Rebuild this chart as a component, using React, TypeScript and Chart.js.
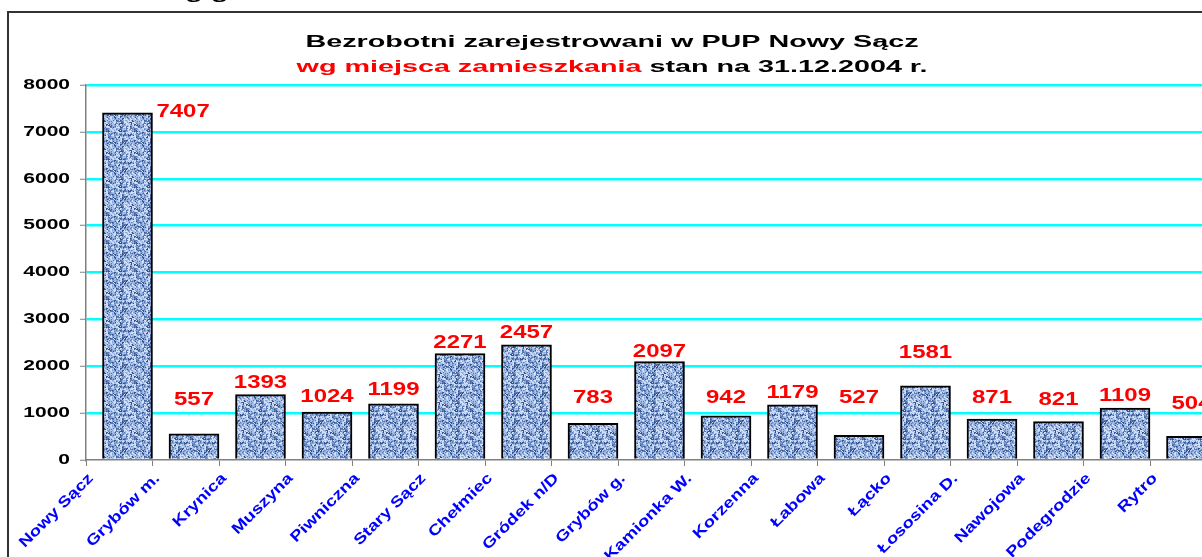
import React, { useEffect, useRef } from "react";
import { Chart, registerables } from "chart.js";

Chart.register(...registerables);

// ---------- data ----------
const categories = [
  "Nowy Sącz", "Grybów m.", "Krynica", "Muszyna", "Piwniczna", "Stary Sącz",
  "Chełmiec", "Gródek n/D", "Grybów g.", "Kamionka W.", "Korzenna", "Łabowa",
  "Łącko", "Łososina D.", "Nawojowa", "Podegrodzie", "Rytro",
];
const values = [7407, 557, 1393, 1024, 1199, 2271, 2457, 783, 2097, 942, 1179, 527, 1581, 871, 821, 1109, 504];
// level (in data units) of each value label's baseline, as placed in the picture
const labelLevels = [7317, 1173, 1536, 1244, 1387, 2389, 2603, 1216, 2197, 1216, 1323, 1216, 2176, 1216, 1173, 1265, 1088];
const labelBeside = [0]; // labels drawn to the right of their bar
const yMin = 0;
const yMax = 8000;
const yStep = 1000;
const titleLine1 = "Bezrobotni zarejestrowani w PUP Nowy Sącz";
const titleLine2Red = "wg miejsca zamieszkania";
const titleLine2Black = " stan na 31.12.2004 r.";
const headerText = "wg gmin";

// ---------- layout / style ----------
const W = 1260;
const H = 557;
const FONT = '"Liberation Sans", Arial, Helvetica, sans-serif';
const PLOT_LEFT = 86;
const PLOT_TOP = 85;
const PLOT_BOTTOM = 460;
const PLOT_RIGHT = 1216.5;
const BAR_PX = 50;
const BAR_POS = 0.624; // bar centre within its category unit

function stretchText(
  ctx: CanvasRenderingContext2D,
  text: string,
  x: number,
  y: number,
  sx: number,
  align: CanvasTextAlign,
  baseline: CanvasTextBaseline = "alphabetic"
) {
  ctx.save();
  ctx.translate(x, y);
  ctx.scale(sx, 1);
  ctx.textAlign = align;
  ctx.textBaseline = baseline;
  ctx.fillText(text, 0, 0);
  ctx.restore();
}

function makePattern(): CanvasPattern | string {
  const c = document.createElement("canvas");
  const N = 14;
  c.width = N * 2;
  c.height = N * 2;
  const g = c.getContext("2d");
  if (!g) return "#86a3d6";
  const pal = ["#d2e0f7", "#aac1e9", "#88a5d8", "#5b7ab3", "#35548d"];
  for (let y = 0; y < N; y++) {
    for (let x = 0; x < N; x++) {
      let h = Math.imul(x + 11, 374761393) + Math.imul(y + 7, 668265263);
      h = Math.imul(h ^ (h >>> 13), 1274126177);
      h = (h ^ (h >>> 16)) >>> 0;
      const r = h % 20;
      const idx = r < 5 ? 0 : r < 10 ? 1 : r < 14 ? 2 : r < 18 ? 3 : 4;
      g.fillStyle = pal[idx];
      g.fillRect(x * 2, y * 2, 2, 2);
      const r2 = (h >>> 8) % 4;
      g.fillStyle = pal[(idx + 1 + (r2 % 2)) % pal.length];
      g.fillRect(x * 2 + (r2 & 1), y * 2 + (r2 >> 1), 1, 1);
    }
  }
  const p = g.createPattern(c, "repeat");
  return p || "#86a3d6";
}

const textPlugin = {
  id: "textPlugin",
  afterDraw(chart: any) {
    const ctx: CanvasRenderingContext2D = chart.ctx;
    const xs = chart.scales.x;
    const ys = chart.scales.y;
    ctx.save();

    // header text above frame (only descenders visible)
    ctx.fillStyle = "#000";
    ctx.font = `bold 17px ${FONT}`;
    stretchText(ctx, headerText, 163, -1.5, 1.69, "left");

    // outer frame
    ctx.strokeStyle = "#333333";
    ctx.lineWidth = 2;
    ctx.strokeRect(8, 12, W + 20, H + 20);

    // title
    ctx.font = `bold 17px ${FONT}`;
    const ts = 1.69;
    const cx = 612;
    ctx.fillStyle = "#000";
    stretchText(ctx, titleLine1, cx, 47, ts, "center");
    const wr = ctx.measureText(titleLine2Red).width * ts;
    const wb = ctx.measureText(titleLine2Black).width * ts;
    const start = cx - (wr + wb) / 2;
    ctx.fillStyle = "#FF0000";
    stretchText(ctx, titleLine2Red, start, 71.5, ts, "left");
    ctx.fillStyle = "#000";
    stretchText(ctx, titleLine2Black, start + wr, 71.5, ts, "left");

    // y tick labels
    ctx.font = `bold 14px ${FONT}`;
    ctx.fillStyle = "#000";
    for (const t of ys.ticks) {
      const y = ys.getPixelForValue(t.value);
      stretchText(ctx, String(t.value), 70, y, 1.5, "right", "middle");
    }

    // x category labels
    ctx.font = `bold 15px ${FONT}`;
    ctx.fillStyle = "#0000FF";
    categories.forEach((name, i) => {
      const px = xs.getPixelForValue(i);
      ctx.save();
      ctx.translate(px + 8, PLOT_BOTTOM + 19);
      ctx.rotate(-Math.PI / 4);
      ctx.scale(1.25, 1);
      ctx.textAlign = "right";
      ctx.textBaseline = "alphabetic";
      ctx.fillText(name, 0, 0);
      ctx.restore();
    });

    // value labels
    const meta = chart.getDatasetMeta(0);
    ctx.font = `bold 18px ${FONT}`;
    ctx.fillStyle = "#FF0000";
    values.forEach((v, i) => {
      const el = meta.data[i];
      if (!el) return;
      const y = ys.getPixelForValue(labelLevels[i]);
      if (labelBeside.includes(i)) {
        stretchText(ctx, String(v), el.x + el.width / 2 + 4, y, 1.33, "left");
      } else {
        stretchText(ctx, String(v), el.x, y, 1.33, "center");
      }
    });

    ctx.restore();
  },
};

export default function App() {
  const ref = useRef<HTMLCanvasElement>(null);

  useEffect(() => {
    const canvas = ref.current;
    if (!canvas) return;
    const pattern = makePattern();
    const chart = new Chart(canvas, {
      type: "bar",
      data: {
        datasets: [
          {
            data: values.map((v, i) => ({ x: i + BAR_POS, y: v })),
            backgroundColor: pattern as any,
            borderColor: "#000000",
            borderWidth: 2,
            barThickness: BAR_PX,
          },
        ],
      },
      options: {
        responsive: false,
        animation: false,
        events: [],
        layout: { padding: { left: 0, top: PLOT_TOP, right: W - PLOT_RIGHT, bottom: 0 } },
        plugins: {
          legend: { display: false },
          tooltip: { enabled: false },
          title: { display: false },
        },
        scales: {
          x: {
            type: "linear",
            offset: false,
            min: 0,
            max: categories.length,
            ticks: { display: false, stepSize: 1, autoSkip: false, maxTicksLimit: 100 },
            grid: {
              offset: false,
              drawOnChartArea: false,
              drawTicks: true,
              tickLength: 6,
              tickColor: "#808080",
              tickWidth: 1,
            },
            border: { color: "#808080", width: 1.5 },
            afterFit: (s: any) => {
              s.height = H - PLOT_BOTTOM;
            },
          },
          y: {
            min: yMin,
            max: yMax,
            ticks: { display: false, stepSize: yStep },
            grid: {
              color: (c: any) => (c.tick && c.tick.value === 0 ? "rgba(0,0,0,0)" : "#00FFFF"),
              lineWidth: 2.5,
              drawTicks: true,
              tickLength: 6,
              tickColor: "#808080",
              tickWidth: 1,
            },
            border: { color: "#808080", width: 1.5 },
            afterFit: (s: any) => {
              s.width = PLOT_LEFT;
            },
          },
        },
      } as any,
      plugins: [textPlugin],
    });
    return () => chart.destroy();
  }, []);

  return (
    <>
      <style>{`html,body{margin:0;padding:0;overflow:hidden;background:#fff;}`}</style>
      <div style={{ width: 1202, height: H, overflow: "hidden", position: "relative", background: "#fff" }}>
        <canvas ref={ref} width={W} height={H} style={{ display: "block", width: W, height: H }} />
      </div>
    </>
  );
}
